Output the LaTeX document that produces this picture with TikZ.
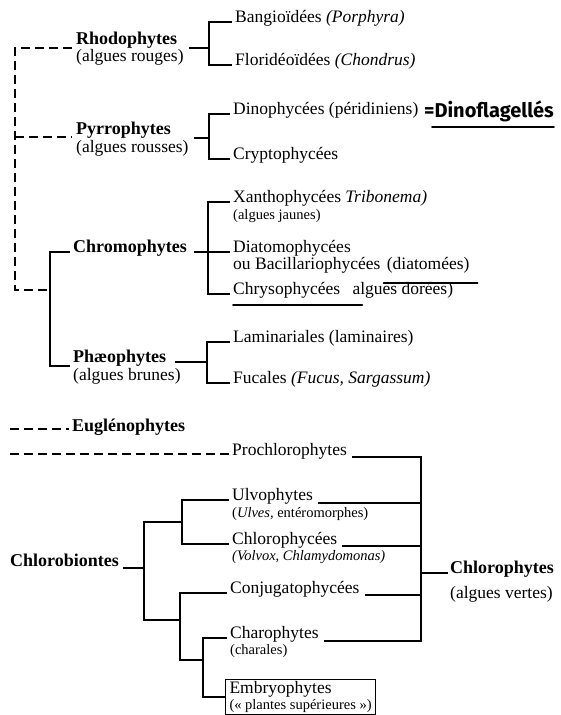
\documentclass[tikz,border=0pt]{standalone}
\usepackage{fontspec}
\setmainfont{Liberation Serif}
\newfontfamily\handfont{Fira Sans}
\usetikzlibrary{positioning, calc}

\begin{document}
\begin{tikzpicture}[x=1pt, y=-1pt,
    every node/.style={inner sep=0pt, anchor=base west},
    txt/.style={font=\fontsize{17.5}{19}\selectfont},
    sml/.style={font=\fontsize{14.5}{16}\selectfont},
    grp/.style={font=\fontsize{18}{20}\selectfont\bfseries},
    hand/.style={font=\handfont\bfseries\fontsize{20}{22}\selectfont},
    br/.style={line width=1.3pt},
    dsh/.style={line width=1.3pt, dash pattern=on 9pt off 5pt},
    uline/.style={line width=1.6pt, line cap=round}]
    \useasboundingbox (0,0) rectangle (561,715);

    % Rhodophytes, Pyrrophytes
    \node[grp] (rhodo) at (76,44) {Rhodophytes};
    \node[txt] (rhodos) at (76,61) {(algues rouges)};
    \node[txt] (bangio) at (235,22) {Bangioïdées \textit{(Porphyra)}};
    \node[txt] (florid) at (235,65) {Floridéoïdées \textit{(Chondrus)}};
    \node[grp] (pyrro) at (76,134) {Pyrrophytes};
    \node[txt] (pyrros) at (76,152) {(algues rousses)};
    \node[txt] (dinoph) at (233,114) {Dinophycées (péridiniens)};
    \node[hand] (dinofl) at (424,117) {=Dinoflagellés};
    \node[txt] (crypto) at (233,159) {Cryptophycées};

    % Chromophytes, Phaeophytes
    \node[grp] (chromo) at (73,252) {Chromophytes};
    \node[txt] (xantho) at (233,202) {Xanthophycées \textit{Tribonema)}};
    \node[sml] (xanthos) at (233,219) {(algues jaunes)};
    \node[txt] (diato) at (233,252) {Diatomophycées};
    \node[txt] (bacill) at (233,269) {ou Bacillariophycées};
    \node[txt] (diatm) at ($(bacill.base east)+(6,0)$) {(diatomées)};
    \node[txt] (chryso) at (233,294) {Chrysophycées};
    \node[txt] (dorees) at ($(chryso.base east)+(12,0)$) {algues dorées)};
    \node[grp] (phaeo) at (73,362) {Phæophytes};
    \node[txt] (phaeos) at (73,380) {(algues brunes)};
    \node[txt] (lamin) at (233,342) {Laminariales (laminaires)};
    \node[txt] (fucal) at (233,383) {Fucales \textit{(Fucus, Sargassum)}};

    % Euglenophytes and the green line
    \node[grp] (eugl) at (72,431) {Euglénophytes};
    \node[txt] (prochl) at (232,455) {Prochlorophytes};
    \node[txt] (ulvo) at (232,500) {Ulvophytes};
    \node[sml] (ulvos) at (232,517) {(\textit{Ulves,} entéromorphes)};
    \node[txt] (chlph) at (232,544) {Chlorophycées};
    \node[sml] (chlphs) at (232,560) {\textit{(Volvox, Chlamydomonas)}};
    \node[grp] (chlb) at (10,566) {Chlorobiontes};
    \node[txt] (conj) at (230,593) {Conjugatophycées};
    \node[txt] (charo) at (230,638) {Charophytes};
    \node[sml] (charos) at (230,654) {(charales)};
    \node[txt, draw, line width=1pt, anchor=north west, align=left,
        inner xsep=4pt, inner ysep=2pt] (embryo) at (225,679)
        {Embryophytes\\[-3pt]\fontsize{14.5}{16}\selectfont(«~plantes supérieures~»)};
    \node[grp] (chloro) at (450,573) {Chlorophytes};
    \node[txt] (chloros) at (450,598) {(algues vertes)};

    % joints
    \coordinate (j1) at (209,48);
    \coordinate (j2) at (209,138);
    \coordinate (j3) at (208,252);
    \coordinate (j4) at (207,362);
    \coordinate (jcp) at (50,290);
    \coordinate (dv) at (15,290);
    \coordinate (de) at (10,429);
    \coordinate (dp) at (10,454);
    \coordinate (ju) at (182,522);
    \coordinate (jl) at (180,620);
    \coordinate (jcm) at (203,660);
    \coordinate (jo) at (144,568);
    \coordinate (jc) at (421,573);

    % brackets, upper part
    \draw[br] ([xshift=-3pt]bangio.base west) -| (j1) |- ([xshift=-3pt]florid.base west);
    \draw[br] ($(rhodos.east |- j1)+(5,0)$) -- (j1);
    \draw[br] ([xshift=-3pt]dinoph.base west) -| (j2) |- ([xshift=-3pt]crypto.base west);
    \draw[br] ($(pyrros.east |- j2)+(5,0)$) -- (j2);
    \draw[dsh] ($(rhodo.base west)+(-4,4)$) -| (dv) -- (jcp);
    \draw[dsh] ($(dv |- pyrro.base west)+(0,3)$) -- ($(pyrro.base west)+(-4,3)$);
    \draw[br] ([xshift=-3pt]chromo.base west) -| (jcp) |- ([shift={(-3,4)}]phaeo.base west);
    \draw[br] ([xshift=-3pt]xantho.base west) -| (j3) |- ([xshift=-3pt]chryso.base west);
    \draw[br] ($(chromo.base east)+(7,0)$) -- ([xshift=-3pt]diato.base west);
    \draw[br] ([xshift=-3pt]lamin.base west) -| (j4) |- ([xshift=-3pt]fucal.base west);
    \draw[br] ($(phaeo.base east)+(9,0)$) -- (j4);

    % hand underlines
    \draw[uline] ($(dinofl.base west)+(8,10)$) -- ($(dinofl.base east)+(0,10)$);
    \draw[uline] ($(diatm.base west)+(-3,14)$) -- ($(diatm.base east)+(8,14)$);
    \draw[uline] ($(chryso.base west)+(0,11)$) -- ($(dorees.base west)+(10,11)$);

    % dashed lines
    \draw[dsh] (de) -- ($(eugl.base west)+(-3,-2)$);
    \draw[dsh] (dp) -- ($(prochl.base west)+(-2,-1)$);

    % green tree
    \draw[br] ([xshift=-3pt]ulvo.base west) -| (ju) |- ([xshift=-3pt]chlph.base west);
    \draw[br] ([xshift=-3pt]conj.base west) -| (jl) |- (jcm);
    \draw[br] ([xshift=-3pt]charo.base west) -| (jcm) |- (embryo.west);
    \draw[br] (ju) -| (jo) |- (jl);
    \draw[br] ($(chlb.base east)+(4,2)$) -- (jo);
    \foreach \n/\dy in {prochl/2, ulvo/3, chlph/2, conj/2, charo/3}
        \draw[br] ($(\n.base east)+(5,\dy)$) -| (jc);
    \draw[br] (jc) -- ([xshift=-2pt]chloro.base west);
\end{tikzpicture}
\end{document}
